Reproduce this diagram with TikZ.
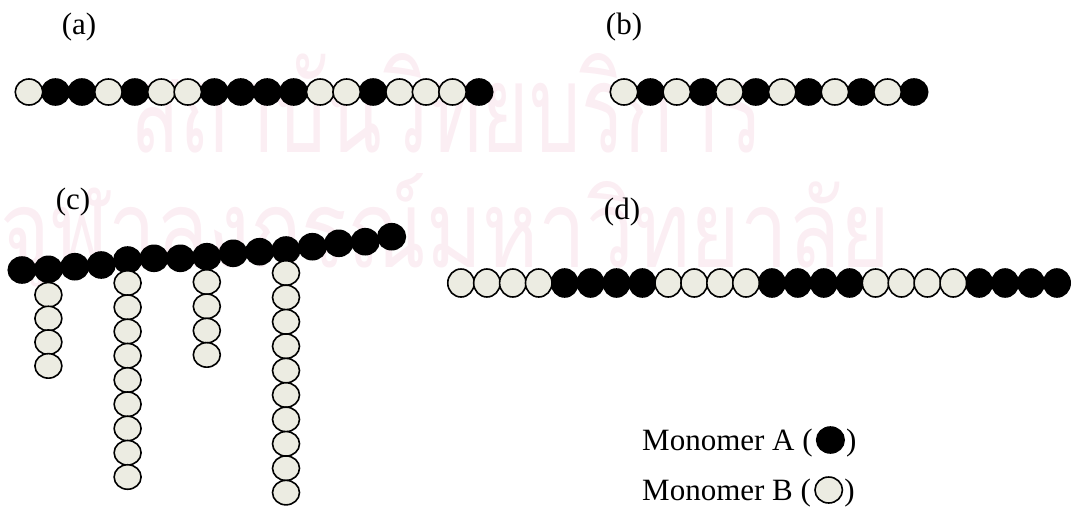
\documentclass[tikz,border=0pt]{standalone}
\usepackage{graphicx}
\usepackage{fontspec}
\setmainfont{Liberation Serif}
\newfontfamily\thaifont[Script=Thai]{Loma}
\usetikzlibrary{shapes.geometric,calc}

\definecolor{beadfill}{RGB}{236,236,226}
\definecolor{markpink}{RGB}{251,238,243}

\tikzset{
  bead/.style={ellipse, draw=black, line width=1.6pt, inner sep=0pt,
               minimum width=27.5pt, minimum height=26pt},
  monoA/.style={bead, fill=black},
  monoB/.style={bead, fill=beadfill},
  tall/.style={minimum width=26.5pt, minimum height=28pt},
  flat/.style={minimum width=27pt, minimum height=24.5pt},
  tag/.style={font=\fontsize{31}{36}\selectfont, inner sep=0pt},
  legend/.style={font=\fontsize{31}{36}\selectfont, inner sep=0pt},
  key/.style={bead, minimum width=27pt, minimum height=25pt},
  watermark/.style={text=markpink, inner sep=0pt},
}

\begin{document}
\begin{tikzpicture}[x=1pt,y=-1pt]
\useasboundingbox (0,0) rectangle (1075,509);

% faint Thai watermark behind everything
\node[watermark, anchor=base west] (wm1) at (130,152)
  {\resizebox{633pt}{99pt}{\thaifont สถาบันวิทยบริการ}};
\node[watermark, anchor=base west] (wm2) at (0,267)
  {\resizebox{890pt}{94pt}{\thaifont จุฬาลงกรณ์มหาวิทยาลัย}};

% panel labels
\node[tag] (la) at (79,27) {(a)};
\node[tag] (lb) at (624,27) {(b)};
\node[tag] (lc) at (73,202) {(c)};
\node[tag] (ld) at (622,212) {(d)};

% (a) random copolymer: black beads first, light beads on top
\foreach \t [count=\i] in {B,A,A,B,A,B,B,A,A,A,A,B,B,A,B,B,B,A}
  {\if\t A\node[monoA] (a\i) at ({29+26.47*(\i-1)},92) {};\fi}
\foreach \t [count=\i] in {B,A,A,B,A,B,B,A,A,A,A,B,B,A,B,B,B,A}
  {\if\t B\node[monoB] (a\i) at ({29+26.47*(\i-1)},92) {};\fi}

% (b) alternating copolymer
\foreach \i in {2,4,...,12}
  \node[monoA] (b\i) at ({624+26.36*(\i-1)},92) {};
\foreach \i in {1,3,...,11}
  \node[monoB] (b\i) at ({624+26.36*(\i-1)},92) {};

% (c) graft copolymer: backbone of A
\foreach \x/\y [count=\i] in {22/270,48.4/269.3,74.8/266.7,101.2/265,127.6/260,
    154/258.3,180.4/258.3,206.8/256.7,233.2/253.3,259.6/251.7,286/250,
    312.4/246.7,338.8/243.3,365.2/241.7,391.6/236.7}
  \node[monoA] (c\i) at (\x,\y) {};

% (c) side chains of B hanging from beads 2, 5, 8 and 11
\foreach \i in {1,...,4}
  \node[monoB, flat] (s1-\i) at ($(c2)+(0,{25.5+23.7*(\i-1)})$) {};
\foreach \i in {1,...,9}
  \node[monoB, flat] (s2-\i) at ($(c5)+(0,{23+24.25*(\i-1)})$) {};
\foreach \i in {1,...,4}
  \node[monoB, flat] (s3-\i) at ($(c8)+(0,{25.3+24.3*(\i-1)})$) {};
\foreach \i in {1,...,10}
  \node[monoB, flat] (s4-\i) at ($(c11)+(0,{23+24.4*(\i-1)})$) {};

% (d) block copolymer
\foreach \t [count=\i] in {B,B,B,B,A,A,A,A,B,B,B,B,A,A,A,A,B,B,B,B,A,A,A,A}
  {\if\t A\node[monoA, tall] (d\i) at ({461+25.91*(\i-1)},283) {};\fi}
\foreach \t [count=\i] in {B,B,B,B,A,A,A,A,B,B,B,B,A,A,A,A,B,B,B,B,A,A,A,A}
  {\if\t B\node[monoB, tall] (d\i) at ({461+25.91*(\i-1)},283) {};\fi}

% legend
\node[legend, anchor=base west] (ka) at (642,450) {Monomer A (};
\node[key, monoA, anchor=west] (kad) at ($(ka.base east)+(3,-10)$) {};
\node[legend, anchor=base west] (kac) at ($(kad.east |- ka.base)+(1,0)$) {)};
\node[legend, anchor=base west] (kb) at (642,500) {Monomer B (};
\node[key, monoB, anchor=west] (kbd) at ($(kb.base east)+(3,-10)$) {};
\node[legend, anchor=base west] (kbc) at ($(kbd.east |- kb.base)+(1,0)$) {)};
\end{tikzpicture}
\end{document}
